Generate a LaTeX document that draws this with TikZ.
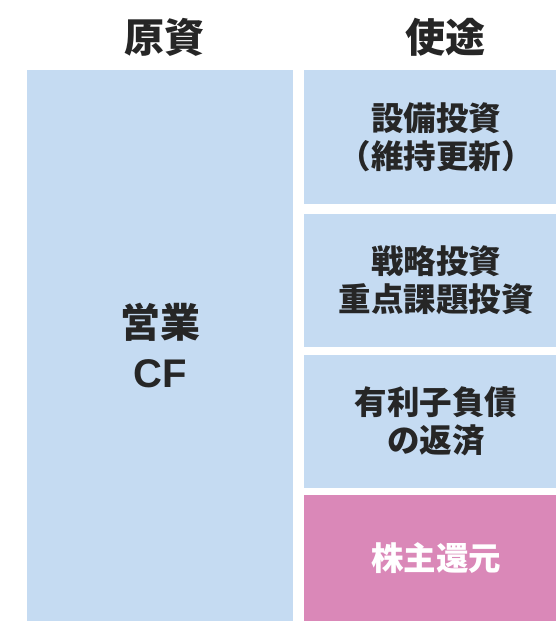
\documentclass[tikz,border=0pt]{standalone}
\usepackage{fontspec}
\usepackage{xcolor}
\usepackage{tikz}
\usetikzlibrary{positioning}
\newfontfamily\jpfont{Noto Sans CJK JP}
\newfontfamily\latfont{Liberation Sans}
\definecolor{srcblue}{HTML}{C5DBF2}
\definecolor{retpink}{HTML}{DA88B8}
\definecolor{inkgray}{HTML}{262626}
\tikzset{
  headtext/.style={
    text=inkgray, font=\jpfont\bfseries\fontsize{40}{48}\selectfont, inner sep=0pt
  },
  srcblock/.style={
    rectangle, fill=srcblue, inner sep=0pt, align=center, text=inkgray,
    minimum width=266pt, minimum height=551pt,
    font=\jpfont\bfseries\fontsize{40}{50}\selectfont
  },
  % right column runs past the page edge, as in the cropped original
  useblock/.style={
    rectangle, fill=srcblue, inner sep=0pt, align=center, text=inkgray,
    minimum width=264pt, minimum height=133pt,
    font=\jpfont\bfseries\fontsize{32.5}{38}\selectfont
  }
}

\begin{document}
\begin{tikzpicture}[x=1pt, y=-1pt]
  \useasboundingbox (0,0) rectangle (555,621);
  \node[headtext] (srchead) at (164.5,37) {原資};
  \node[headtext] (usehead) at (445,37) {使途};
  \node[srcblock] (opcf) at (160,345.5) {営業\\{\latfont\bfseries CF}};
  \node[useblock, minimum height=134pt] (capex) at (436,137) {設備投資\\（維持更新）};
  \node[useblock] (strat) at (436,280.5) {戦略投資\\重点課題投資};
  \node[useblock] (debt) at (436,421.5) {有利子負債\\の返済};
  \node[useblock, minimum height=126pt, fill=retpink, text=white] (payout) at (436,558) {株主還元};
\end{tikzpicture}
\end{document}
